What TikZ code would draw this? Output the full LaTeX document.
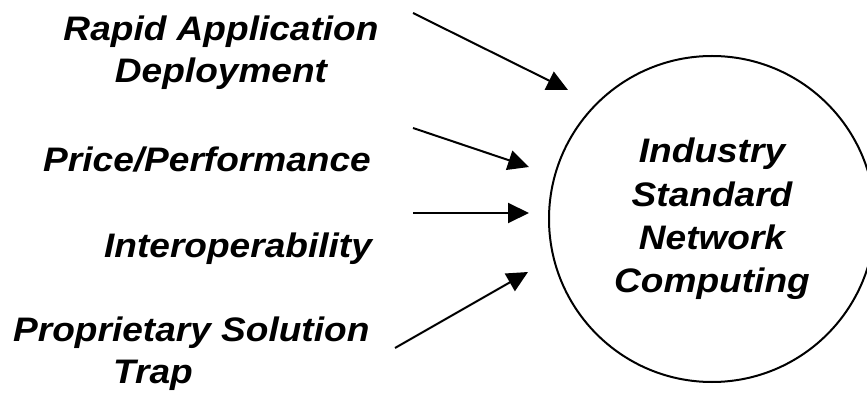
\documentclass[tikz,border=0pt]{standalone}
\usepackage{fontspec}
\setmainfont{Liberation Sans}[FakeStretch=1.09]
\usetikzlibrary{arrows.meta}
\begin{document}
\begin{tikzpicture}[x=1pt,y=-1pt,
  lbl/.style={font=\fontsize{34}{42}\selectfont\bfseries\itshape,
    align=center, inner sep=0pt, anchor=base},
  feed/.style={line width=2pt, -{Triangle[length=21pt,width=20pt]}},
  hub/.style={circle, draw, line width=2pt, minimum size=326pt,
    inner sep=0pt, align=center,
    font=\fontsize{34}{43.3}\selectfont\bfseries\itshape}]
\useasboundingbox (0,0) rectangle (867,395);
\clip (0,0) rectangle (867,395);

% central goal
\node[hub] (goal) at (712,219) {Industry\\Standard\\Network\\Computing};

% driving factors (base anchor = baseline of the last line)
\node[lbl] (rad) at (221,83) {Rapid Application\\Deployment};
\node[lbl] (pp) at (207,172) {Price/Performance};
\node[lbl] (io) at (238,258) {Interoperability};
\node[lbl, align=left, anchor=base west] (pst) at (13,383)
  {Proprietary Solution\\\hspace*{100pt}Trap};

% arrow end points
\coordinate (a1s) at (413,13);  \coordinate (a1e) at (568,90);
\coordinate (a2s) at (413,128); \coordinate (a2e) at (529,167);
\coordinate (a3s) at (413,213); \coordinate (a3e) at (529,213);
\coordinate (a4s) at (395,348); \coordinate (a4e) at (528,272);

\draw[feed] (a1s) -- (a1e);
\draw[feed] (a2s) -- (a2e);
\draw[feed] (a3s) -- (a3e);
\draw[feed] (a4s) -- (a4e);
\end{tikzpicture}
\end{document}
